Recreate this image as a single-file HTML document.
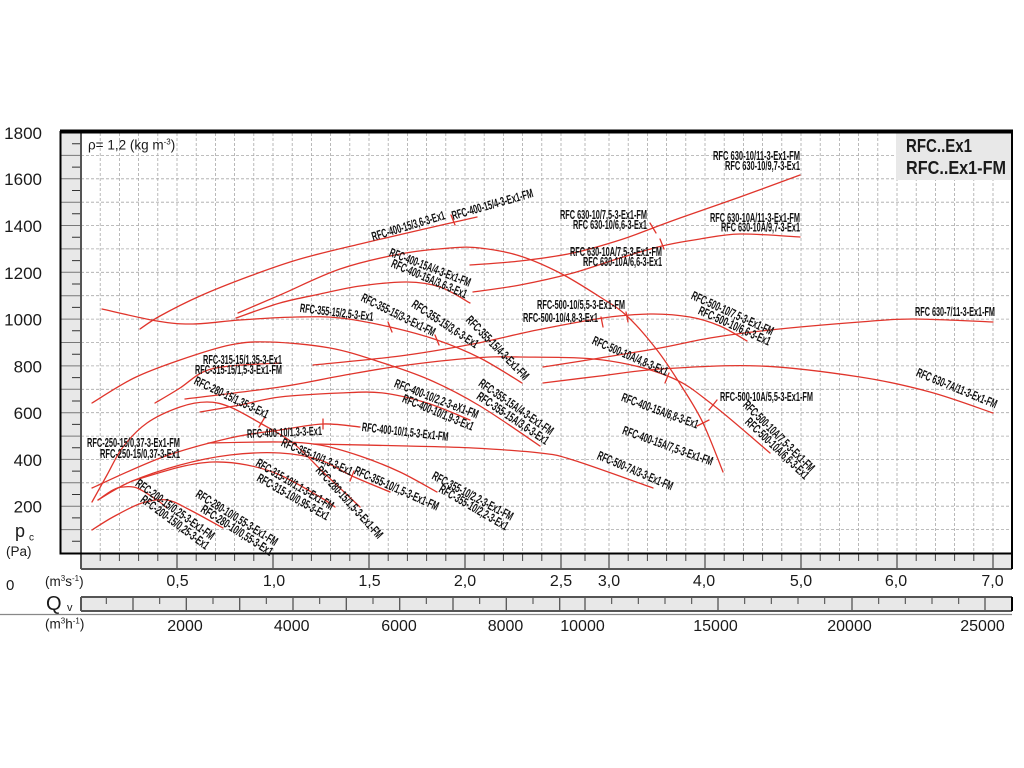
<!DOCTYPE html>
<html><head><meta charset="utf-8"><style>
html,body{margin:0;padding:0;background:#fff;}
svg{display:block;}
.ax{font-family:"Liberation Sans",sans-serif;fill:#1a1a1a;}
.lb{font-family:"Liberation Sans Narrow","Liberation Sans",sans-serif;font-weight:bold;font-size:12.5px;fill:#111;}
.cv{fill:none;stroke:#e0352c;stroke-width:1.3;stroke-linejoin:round;stroke-linecap:round;}
</style></head><body>
<svg id="chart" width="1024" height="768" viewBox="0 0 1024 768" xmlns="http://www.w3.org/2000/svg">
<rect width="1024" height="768" fill="#fff"/>
<rect x="60" y="131" width="21" height="422" fill="#e8e8e8"/>
<rect x="81" y="553" width="931" height="16" fill="#e8e8e8"/>
<rect x="81" y="597" width="931" height="14" fill="#e8e8e8"/>

<path stroke="#a8a8a8" stroke-width="0.8" stroke-dasharray="3 2" fill="none" d="
M81 155.4H1012M81 178.8H1012M81 202.2H1012M81 225.5H1012M81 248.9H1012M81 272.3H1012M81 295.7H1012M81 319.1H1012M81 342.5H1012M81 365.9H1012M81 389.3H1012M81 412.7H1012M81 436.1H1012M81 459.4H1012M81 482.8H1012M81 506.2H1012M81 529.6H1012
M100.2 133V553M119.4 133V553M138.6 133V553M157.8 133V553M177 133V553M196.2 133V553M215.4 133V553M234.6 133V553M253.8 133V553M273 133V553M292.2 133V553M311.4 133V553M330.6 133V553M349.8 133V553M369 133V553M388.2 133V553M407.4 133V553M426.6 133V553M445.8 133V553M465 133V553M484.2 133V553M503.4 133V553M522.6 133V553M541.8 133V553M561 133V553M585 133V553M609 133V553M628.2 133V553M647.4 133V553M666.6 133V553M685.8 133V553M705 133V553M724.2 133V553M743.4 133V553M762.6 133V553M781.8 133V553M801 133V553M820.2 133V553M839.4 133V553M858.6 133V553M877.8 133V553M897 133V553M916.2 133V553M935.4 133V553M954.6 133V553M973.8 133V553M993 133V553"/>

<path stroke="#777" stroke-width="1" fill="none" d="M60 155.4H81M60 178.8H81M60 202.2H81M60 225.5H81M60 248.9H81M60 272.3H81M60 295.7H81M60 319.1H81M60 342.5H81M60 365.9H81M60 389.3H81M60 412.7H81M60 436.1H81M60 459.4H81M60 482.8H81M60 506.2H81M60 529.6H81"/>
<path stroke="#333" stroke-width="1" fill="none" d="M72 143.7H81M72 167.1H81M72 190.5H81M72 213.8H81M72 237.2H81M72 260.6H81M72 284H81M72 307.4H81M72 330.8H81M72 354.2H81M72 377.6H81M72 401H81M72 424.4H81M72 447.8H81M72 471.1H81M72 494.5H81M72 517.9H81M72 541.3H81"/>

<path stroke="#444" stroke-width="1" fill="none" d="M100.2 553V561M119.4 553V561M138.6 553V561M157.8 553V561M196.2 553V561M215.4 553V561M234.6 553V561M253.8 553V561M292.2 553V561M311.4 553V561M330.6 553V561M349.8 553V561M388.2 553V561M407.4 553V561M426.6 553V561M445.8 553V561M484.2 553V561M503.4 553V561M522.6 553V561M541.8 553V561M585 553V561M628.2 553V561M647.4 553V561M666.6 553V561M685.8 553V561M724.2 553V561M743.4 553V561M762.6 553V561M781.8 553V561M820.2 553V561M839.4 553V561M858.6 553V561M877.8 553V561M916.2 553V561M935.4 553V561M954.6 553V561M973.8 553V561"/>
<path stroke="#555" stroke-width="1.3" fill="none" d="M177 553V569M273 553V569M369 553V569M465 553V569M561 553V569M609 553V569M705 553V569M801 553V569M897 553V569M993 553V569"/>
<path stroke="#444" stroke-width="1" fill="none" d="M106.3 597V604M159.7 597V604M213 597V604M266.3 597V604M319.7 597V604M373 597V604M426.3 597V604M479.7 597V604M533 597V604M611.7 597V604M638.3 597V604M665 597V604M691.7 597V604M744.7 597V604M771.3 597V604M798 597V604M824.7 597V604M878.7 597V604M905.3 597V604M932 597V604M958.7 597V604"/>
<path stroke="#555" stroke-width="1.3" fill="none" d="M133 597V611M186.3 597V611M239.7 597V611M293 597V611M346.3 597V611M399.7 597V611M453 597V611M506.3 597V611M559.7 597V611M585 597V611M718 597V611M852 597V611M985 597V611"/>

<path stroke="#555" stroke-width="2" fill="none" d="M81 131V569M81 569H1012M81 597V611M81 597H1012M81 611H1012"/>
<line x1="0" y1="614.5" x2="1012" y2="614.5" stroke="#888" stroke-width="1.3"/>

<path stroke="#000" stroke-width="2" fill="none" d="M60.5 131V553.5H1012M1012 131V569M1012 597V611"/>
<rect x="60" y="129.5" width="953" height="4" fill="#000"/>

<rect x="896" y="133.5" width="115" height="46.5" fill="#e8e8e8"/>
<text class="ax" x="906" y="152" font-size="18" font-weight="bold" textLength="66" lengthAdjust="spacingAndGlyphs" fill="#222">RFC..Ex1</text>
<text class="ax" x="906" y="174" font-size="18" font-weight="bold" textLength="100" lengthAdjust="spacingAndGlyphs" fill="#222">RFC..Ex1-FM</text>

<text class="ax" x="88" y="149.5" font-size="13.5">ρ= 1,2 (kg m<tspan font-size="8" dy="-5">-3</tspan><tspan dy="5">)</tspan></text>

<g class="ax" font-size="17" text-anchor="end">
<text x="42" y="139">1800</text>
<text x="42" y="185">1600</text>
<text x="42" y="232">1400</text>
<text x="42" y="279">1200</text>
<text x="42" y="325.5">1000</text>
<text x="42" y="372.5">800</text>
<text x="42" y="419">600</text>
<text x="42" y="466">400</text>
<text x="42" y="512.5">200</text>
</g>
<text class="ax" x="15" y="537" font-size="18">p</text>
<text class="ax" x="29" y="540.5" font-size="10">c</text>
<text class="ax" x="6" y="556" font-size="13.5">(Pa)</text>
<text class="ax" x="6" y="590" font-size="15">0</text>
<text class="ax" x="45" y="586" font-size="13.5">(m<tspan font-size="8" dy="-5">3</tspan><tspan dy="5">s</tspan><tspan font-size="8" dy="-5">-1</tspan><tspan dy="5">)</tspan></text>
<text class="ax" x="46" y="610" font-size="20">Q</text>
<text class="ax" x="67" y="611" font-size="11">v</text>
<text class="ax" x="45" y="628.5" font-size="13.5">(m<tspan font-size="8" dy="-5">3</tspan><tspan dy="5">h</tspan><tspan font-size="8" dy="-5">-1</tspan><tspan dy="5">)</tspan></text>

<g class="ax" font-size="16" text-anchor="middle">
<text x="177.5" y="586">0,5</text>
<text x="274" y="586">1,0</text>
<text x="369.5" y="586">1,5</text>
<text x="465" y="586">2,0</text>
<text x="561" y="586">2,5</text>
<text x="609" y="586">3,0</text>
<text x="704" y="586">4,0</text>
<text x="801" y="586">5,0</text>
<text x="896" y="586">6,0</text>
<text x="992.5" y="586">7,0</text>
<text x="185" y="631">2000</text>
<text x="291.7" y="631">4000</text>
<text x="399" y="631">6000</text>
<text x="505.5" y="631">8000</text>
<text x="582.5" y="631">10000</text>
<text x="715.5" y="631">15000</text>
<text x="849.5" y="631">20000</text>
<text x="982.5" y="631">25000</text>
</g>

<g class="cv">
<polyline class="sm" points="140,329 160,316 200,296 250,276 300,259 360,244 420,230 477,217"/>
<polyline class="sm" points="238,313 280,295 340,269 400,254 450,248 480,248 520,256 560,273 600,297 627,316 657,350 682,387 703,423 723,472"/>
<polyline class="sm" points="236,318 280,303 320,294 360,286 407,282 440,287 470,303"/>
<polyline class="sm" points="102,309 157,321 193,324 240,320 297,317 340,318 390,327 437,340 480,358 522,383"/>
<polyline class="sm" points="92,403 134,378 180,360 230,345 270,342 330,348 380,362 430,380 480,406 540,446"/>
<polyline class="sm" points="155,403 180,388 203,372 230,366 280,363"/>
<polyline class="sm" points="313,365 400,356 473,344 537,330 603,318 650,314 690,317 720,326 747,341"/>
<polyline class="sm" points="185,399 280,387 340,376 400,366 473,358 520,357 603,360 670,377 713,405 770,453"/>
<polyline class="sm" points="470,265 520,261 573,253 620,240 653,228 680,218 740,197 800,175"/>
<polyline class="sm" points="473,292 520,285 573,273 620,258 662,246 700,239 740,234 800,237"/>
<polyline class="sm" points="543,367 600,358 660,348 710,338 770,330 860,322 913,319 993,322"/>
<polyline class="sm" points="543,383 600,376 660,369 760,366 860,377 930,392 993,413"/>
<polyline class="sm" points="92,502 107,475 123,447 147,423 180,407 207,402 230,407 260,423 293,443 323,472 360,507"/>
<polyline class="sm" points="200,412 240,405 280,397 340,393 383,393 427,403 470,420"/>
<polyline class="sm" points="92,488 163,457 230,438 280,430 323,424 360,427"/>
<polyline class="sm" points="98,500 130,482 180,465 230,455 280,453 320,460 352,476 390,492"/>
<polyline class="sm" points="208,443 280,442 320,445 360,456 400,472 437,492"/>
<polyline class="sm" points="132,481 180,467 213,462 247,465 280,475 320,497 335,507"/>
<polyline class="sm" points="313,444 407,446 473,448 540,453 573,460 653,488"/>
<polyline class="sm" points="98,500 113,490 123,487 137,488 157,500 167,508"/>
<polyline class="sm" points="92,530 113,517 142,503 167,500 190,510 223,528"/>
<path d="M451 215L455 225M388 322L392 332M435 335L439 345M650 223L656 233M660 239L664 249M601 317L603 327M626 312L628 322M717 400L709 410M669 373L665 383M697 426L709 420M323 419L323 429M354 471L350 481M265 417L259 427"/>
</g>

<g class="lb" dominant-baseline="central">
<text transform="translate(372,237) rotate(-16.8)" textLength="76" lengthAdjust="spacingAndGlyphs">RFC-400-15/3,6-3-Ex1</text>
<text transform="translate(452,216) rotate(-15.9)" textLength="84" lengthAdjust="spacingAndGlyphs">RFC-400-15/4-3-Ex1-FM</text>
<text transform="translate(390,252) rotate(21.2)" textLength="86" lengthAdjust="spacingAndGlyphs">RFC-400-15A/4-3-Ex1-FM</text>
<text transform="translate(392,263) rotate(23.1)" textLength="81" lengthAdjust="spacingAndGlyphs">RFC-400-15A/3,6-3-Ex1</text>
<text transform="translate(560,215)" textLength="87" lengthAdjust="spacingAndGlyphs">RFC 630-10/7,5-3-Ex1-FM</text>
<text transform="translate(573,225)" textLength="74" lengthAdjust="spacingAndGlyphs">RFC 630-10/6,6-3-Ex1</text>
<text transform="translate(570,252)" textLength="92" lengthAdjust="spacingAndGlyphs">RFC 630-10A/7,5-3-Ex1-FM</text>
<text transform="translate(583,262)" textLength="79" lengthAdjust="spacingAndGlyphs">RFC 630-10A/6,6-3-Ex1</text>
<text transform="translate(537,305)" textLength="88" lengthAdjust="spacingAndGlyphs">RFC-500-10/5,5-3-Ex1-FM</text>
<text transform="translate(523,318)" textLength="75" lengthAdjust="spacingAndGlyphs">RFC-500-10/4,8-3-Ex1</text>
<text transform="translate(362,297) rotate(26.3)" textLength="81" lengthAdjust="spacingAndGlyphs">RFC-355-15/3-3-Ex1-FM</text>
<text transform="translate(413,303) rotate(33.3)" textLength="77" lengthAdjust="spacingAndGlyphs">RFC-355-15/3,6-3-Ex1</text>
<text transform="translate(468,318) rotate(45.5)" textLength="84" lengthAdjust="spacingAndGlyphs">RFC-355-15/4-3-Ex1-FM</text>
<text transform="translate(300,308) rotate(7)" textLength="74" lengthAdjust="spacingAndGlyphs">RFC-355-15/2,5-3-Ex1</text>
<text transform="translate(203,360)" textLength="79" lengthAdjust="spacingAndGlyphs">RFC-315-15/1,35-3-Ex1</text>
<text transform="translate(195,370)" textLength="87" lengthAdjust="spacingAndGlyphs">RFC-315-15/1,5-3-Ex1-FM</text>
<text transform="translate(195,380) rotate(25.6)" textLength="81" lengthAdjust="spacingAndGlyphs">RFC-280-15/1,35-3-Ex1</text>
<text transform="translate(395,383) rotate(21.1)" textLength="89" lengthAdjust="spacingAndGlyphs">RFC-400-10/2,2-3-eX1-FM</text>
<text transform="translate(403,398) rotate(22.5)" textLength="76" lengthAdjust="spacingAndGlyphs">RFC-400-10/1,9-3-Ex1</text>
<text transform="translate(247,434) rotate(-2.3)" textLength="75" lengthAdjust="spacingAndGlyphs">RFC-400-10/1,3-3-Ex1</text>
<text transform="translate(362,427) rotate(6.6)" textLength="87" lengthAdjust="spacingAndGlyphs">RFC-400-10/1,5-3-Ex1-FM</text>
<text transform="translate(480,382) rotate(34.8)" textLength="88" lengthAdjust="spacingAndGlyphs">RFC-355-15A/4-3-Ex1-FM</text>
<text transform="translate(478,395) rotate(33.9)" textLength="84" lengthAdjust="spacingAndGlyphs">RFC-355-15A/3,6-3-Ex1</text>
<text transform="translate(593,340) rotate(23.4)" textLength="81" lengthAdjust="spacingAndGlyphs">RFC-500-10A/4,8-3-Ex1</text>
<text transform="translate(622,397) rotate(20.2)" textLength="81" lengthAdjust="spacingAndGlyphs">RFC-400-15A/6,8-3-Ex1</text>
<text transform="translate(623,430) rotate(19.6)" textLength="95" lengthAdjust="spacingAndGlyphs">RFC-400-15A/7,5-3-Ex1-FM</text>
<text transform="translate(598,455) rotate(23.1)" textLength="81" lengthAdjust="spacingAndGlyphs">RFC-500-7A/3-3-Ex1-FM</text>
<text transform="translate(692,295) rotate(24.5)" textLength="89" lengthAdjust="spacingAndGlyphs">RFC-500-10/7,5-3-Ex1-FM</text>
<text transform="translate(699,310) rotate(24.3)" textLength="78" lengthAdjust="spacingAndGlyphs">RFC-500-10/6,6-3-Ex1</text>
<text transform="translate(915,312)" textLength="80" lengthAdjust="spacingAndGlyphs">RFC 630-7/11-3-Ex1-FM</text>
<text transform="translate(917,372) rotate(22.4)" textLength="86" lengthAdjust="spacingAndGlyphs">RFC 630-7A/11-3-Ex1-FM</text>
<text transform="translate(720,397)" textLength="93" lengthAdjust="spacingAndGlyphs">RFC-500-10A/5,5-3-Ex1-FM</text>
<text transform="translate(745,403) rotate(44.6)" textLength="95" lengthAdjust="spacingAndGlyphs">RFC-500-10A/7,5-3-Ex1-FM</text>
<text transform="translate(747,420) rotate(43.5)" textLength="83" lengthAdjust="spacingAndGlyphs">RFC-500-10A/6,6-3-Ex1</text>
<text transform="translate(713,156)" textLength="87" lengthAdjust="spacingAndGlyphs">RFC 630-10/11-3-Ex1-FM</text>
<text transform="translate(725,166)" textLength="75" lengthAdjust="spacingAndGlyphs">RFC 630-10/9,7-3-Ex1</text>
<text transform="translate(710,218)" textLength="90" lengthAdjust="spacingAndGlyphs">RFC 630-10A/11-3-Ex1-FM</text>
<text transform="translate(721,227.5)" textLength="79" lengthAdjust="spacingAndGlyphs">RFC 630-10A/9,7-3-Ex1</text>
<text transform="translate(87,443)" textLength="93" lengthAdjust="spacingAndGlyphs">RFC-250-15/0,37-3-Ex1-FM</text>
<text transform="translate(100,454)" textLength="80" lengthAdjust="spacingAndGlyphs">RFC-250-15/0,37-3-Ex1</text>
<text transform="translate(282,442) rotate(23.2)" textLength="76" lengthAdjust="spacingAndGlyphs">RFC-355-10/1,3-3-Ex1</text>
<text transform="translate(355,470) rotate(24)" textLength="91" lengthAdjust="spacingAndGlyphs">RFC-355-10/1,5-3-Ex1-FM</text>
<text transform="translate(318,468) rotate(47.6)" textLength="93" lengthAdjust="spacingAndGlyphs">RFC-280-15/1,5-3-Ex1-FM</text>
<text transform="translate(257,462) rotate(30.6)" textLength="88" lengthAdjust="spacingAndGlyphs">RFC-315-10/1,1-3-Ex1-FM</text>
<text transform="translate(258,477) rotate(29.7)" textLength="81" lengthAdjust="spacingAndGlyphs">RFC-315-10/0,95-3-Ex1</text>
<text transform="translate(433,475) rotate(28)" textLength="90" lengthAdjust="spacingAndGlyphs">RFC-355-10/2,2-3-Ex1-FM</text>
<text transform="translate(440,488) rotate(30.2)" textLength="78" lengthAdjust="spacingAndGlyphs">RFC-355-10/2,2-3-Ex1</text>
<text transform="translate(137,482) rotate(35.9)" textLength="94" lengthAdjust="spacingAndGlyphs">RFC-200-15/0,25-3-Ex1-FM</text>
<text transform="translate(142,498) rotate(36.6)" textLength="82" lengthAdjust="spacingAndGlyphs">RFC-200-15/0,25-3-Ex1</text>
<text transform="translate(197,493) rotate(32)" textLength="94" lengthAdjust="spacingAndGlyphs">RFC-280-10/0,55-3-Ex1-FM</text>
<text transform="translate(202,508) rotate(32.7)" textLength="83" lengthAdjust="spacingAndGlyphs">RFC-280-10/0,55-3-Ex1</text>
</g>
</svg>
<script>
(function(){
  var NS='http://www.w3.org/2000/svg';
  var pls=document.querySelectorAll('polyline.sm');
  for(var k=0;k<pls.length;k++){
    var pl=pls[k];
    var pts=pl.getAttribute('points').trim().split(/\s+/).map(function(s){return s.split(',').map(Number);});
    var d='M'+pts[0][0]+','+pts[0][1];
    for(var i=0;i<pts.length-1;i++){
      var p0=pts[i-1]||pts[i],p1=pts[i],p2=pts[i+1],p3=pts[i+2]||p2;
      var c1x=p1[0]+(p2[0]-p0[0])/6,c1y=p1[1]+(p2[1]-p0[1])/6;
      var c2x=p2[0]-(p3[0]-p1[0])/6,c2y=p2[1]-(p3[1]-p1[1])/6;
      d+=' C'+c1x.toFixed(1)+','+c1y.toFixed(1)+' '+c2x.toFixed(1)+','+c2y.toFixed(1)+' '+p2[0]+','+p2[1];
    }
    var p=document.createElementNS(NS,'path');
    p.setAttribute('d',d);
    pl.parentNode.replaceChild(p,pl);
  }
})();
</script>
</body></html>
